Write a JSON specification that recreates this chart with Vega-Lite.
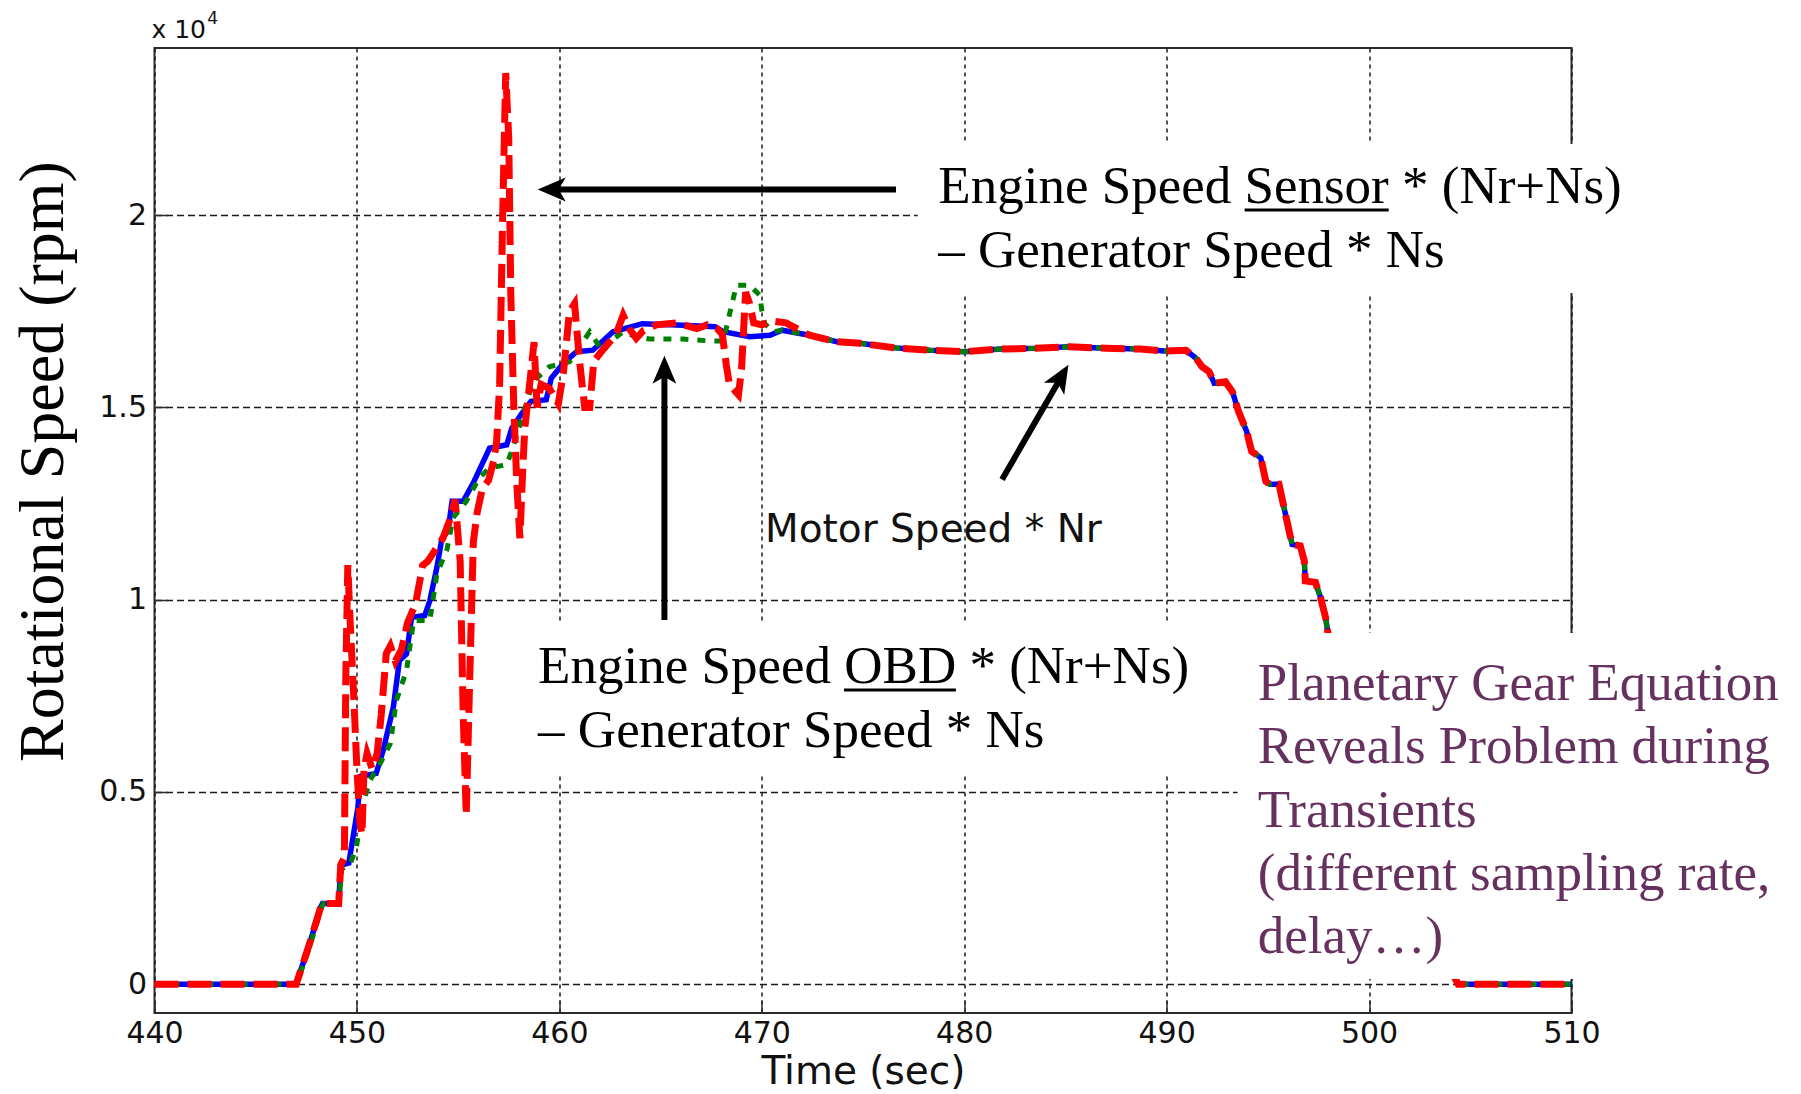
{
  "$schema": "https://vega.github.io/schema/vega-lite/v6.json",
  "width": 1417,
  "height": 965,
  "autosize": {"type": "none"},
  "padding": {"left": 154.5, "top": 48, "right": 229.5, "bottom": 81},
  "background": "white",
  "config": {
    "view": {"stroke": "#2b2b2b", "strokeWidth": 2},
    "font": "DejaVu Sans",
    "axisX": {
      "grid": true, "gridColor": "#1a1a1a", "gridWidth": 1.5, "gridDash": [4, 4],
      "domain": false, "ticks": true, "tickSize": -13, "tickColor": "#2b2b2b", "tickWidth": 1.5,
      "labelFont": "DejaVu Sans", "labelFontSize": 30, "labelColor": "#111111",
      "labelPadding": 18, "labelFlush": false, "labelOverlap": false,
      "titleFont": "DejaVu Sans", "titleFontSize": 39,
      "titleFontWeight": "normal", "titleColor": "#111111",
      "titleY": 70.5, "titleBaseline": "alphabetic"
    },
    "axisY": {
      "grid": true, "gridColor": "#1a1a1a", "gridWidth": 1.5, "gridDash": [7, 4],
      "domain": false, "ticks": true, "tickSize": -13, "tickColor": "#2b2b2b", "tickWidth": 1.5,
      "labelFont": "DejaVu Sans", "labelFontSize": 30, "labelColor": "#111111",
      "labelPadding": 21, "labelFlush": false, "labelOverlap": false,
      "titleFont": "Liberation Serif", "titleFontSize": 64,
      "titleFontWeight": "normal", "titleColor": "#000000",
      "titleAngle": 270, "titleAlign": "center", "titleBaseline": "alphabetic",
      "titleX": -92, "titleY": 413
    }
  },
  "datasets": {
    "motor": [
      {"t": 440, "rpm": 0}, {"t": 447.0, "rpm": 0}, {"t": 447.35, "rpm": 560}, {"t": 447.7, "rpm": 1120},
      {"t": 448.2, "rpm": 1990}, {"t": 448.3, "rpm": 2100}, {"t": 449.1, "rpm": 2100}, {"t": 449.2, "rpm": 3100},
      {"t": 449.6, "rpm": 3150}, {"t": 449.8, "rpm": 3800}, {"t": 450.05, "rpm": 4600}, {"t": 450.15, "rpm": 5400},
      {"t": 450.95, "rpm": 5480}, {"t": 451.3, "rpm": 6090}, {"t": 451.8, "rpm": 7210}, {"t": 452.1, "rpm": 8420},
      {"t": 452.45, "rpm": 8590}, {"t": 452.7, "rpm": 9540}, {"t": 453.35, "rpm": 9590}, {"t": 453.6, "rpm": 9970},
      {"t": 453.95, "rpm": 10840}, {"t": 454.2, "rpm": 11600}, {"t": 454.5, "rpm": 11790}, {"t": 454.7, "rpm": 12560},
      {"t": 455.25, "rpm": 12560}, {"t": 455.75, "rpm": 13040}, {"t": 456.55, "rpm": 13940}, {"t": 457.4, "rpm": 14030},
      {"t": 457.65, "rpm": 14460}, {"t": 458.15, "rpm": 14850}, {"t": 458.6, "rpm": 15160}, {"t": 459.35, "rpm": 15200},
      {"t": 459.6, "rpm": 15760}, {"t": 460.2, "rpm": 16150}, {"t": 460.85, "rpm": 16450}, {"t": 461.65, "rpm": 16490},
      {"t": 462.65, "rpm": 16970}, {"t": 464.1, "rpm": 17180}, {"t": 466.1, "rpm": 17140}, {"t": 467.7, "rpm": 17100},
      {"t": 468.1, "rpm": 16970}, {"t": 469.4, "rpm": 16840}, {"t": 470.4, "rpm": 16880}, {"t": 471.0, "rpm": 17010},
      {"t": 472.35, "rpm": 16880}, {"t": 473.7, "rpm": 16710}, {"t": 474.85, "rpm": 16670}, {"t": 476.6, "rpm": 16550},
      {"t": 478.3, "rpm": 16490}, {"t": 480.0, "rpm": 16450}, {"t": 481.8, "rpm": 16520}, {"t": 483.5, "rpm": 16540},
      {"t": 485.2, "rpm": 16580}, {"t": 487.0, "rpm": 16540}, {"t": 488.7, "rpm": 16520}, {"t": 489.9, "rpm": 16470},
      {"t": 490.95, "rpm": 16490}, {"t": 491.45, "rpm": 16280}, {"t": 491.75, "rpm": 16060}, {"t": 492.1, "rpm": 15930},
      {"t": 492.35, "rpm": 15630}, {"t": 492.9, "rpm": 15670}, {"t": 493.25, "rpm": 15410}, {"t": 493.55, "rpm": 14900},
      {"t": 493.95, "rpm": 14380}, {"t": 494.2, "rpm": 13860}, {"t": 494.65, "rpm": 13690}, {"t": 494.9, "rpm": 13080},
      {"t": 495.1, "rpm": 13000}, {"t": 495.55, "rpm": 13000}, {"t": 495.8, "rpm": 12390}, {"t": 496.05, "rpm": 11790},
      {"t": 496.2, "rpm": 11440}, {"t": 496.6, "rpm": 11400}, {"t": 496.8, "rpm": 11010}, {"t": 496.85, "rpm": 10490},
      {"t": 497.35, "rpm": 10450}, {"t": 497.6, "rpm": 10060}, {"t": 497.85, "rpm": 9540}, {"t": 498.0, "rpm": 9020},
      {"t": 499.0, "rpm": 7600}, {"t": 500.0, "rpm": 5800}, {"t": 501.0, "rpm": 4100}, {"t": 502.0, "rpm": 2600},
      {"t": 503.0, "rpm": 1300}, {"t": 504.0, "rpm": 400}, {"t": 504.4, "rpm": 0}, {"t": 510, "rpm": 0}
    ],
    "obd": [
      {"t": 440, "rpm": 0}, {"t": 447.0, "rpm": 0}, {"t": 447.4, "rpm": 560}, {"t": 447.75, "rpm": 1120},
      {"t": 448.25, "rpm": 1990}, {"t": 448.35, "rpm": 2100}, {"t": 449.1, "rpm": 2100}, {"t": 449.25, "rpm": 3000},
      {"t": 449.65, "rpm": 3100}, {"t": 449.98, "rpm": 3580}, {"t": 450.3, "rpm": 4700}, {"t": 450.65, "rpm": 5310},
      {"t": 451.15, "rpm": 5740}, {"t": 451.65, "rpm": 6260}, {"t": 451.95, "rpm": 7380}, {"t": 452.45, "rpm": 8160},
      {"t": 452.8, "rpm": 9460}, {"t": 453.6, "rpm": 9460}, {"t": 453.95, "rpm": 10670}, {"t": 454.45, "rpm": 11310},
      {"t": 454.75, "rpm": 12130}, {"t": 455.4, "rpm": 12560}, {"t": 456.05, "rpm": 13170}, {"t": 456.55, "rpm": 13430},
      {"t": 457.4, "rpm": 13510}, {"t": 457.7, "rpm": 13940}, {"t": 458.2, "rpm": 14810}, {"t": 458.7, "rpm": 15670},
      {"t": 459.5, "rpm": 16060}, {"t": 460.5, "rpm": 16190}, {"t": 461.5, "rpm": 16970}, {"t": 462.15, "rpm": 16450},
      {"t": 462.5, "rpm": 16710}, {"t": 463.15, "rpm": 16970}, {"t": 463.8, "rpm": 16840}, {"t": 464.45, "rpm": 16780},
      {"t": 466.1, "rpm": 16780}, {"t": 467.45, "rpm": 16730}, {"t": 468.1, "rpm": 16730}, {"t": 468.55, "rpm": 17750},
      {"t": 468.75, "rpm": 18180}, {"t": 469.4, "rpm": 18180}, {"t": 469.9, "rpm": 17920}, {"t": 470.0, "rpm": 17530},
      {"t": 470.15, "rpm": 17180}, {"t": 470.55, "rpm": 16970}, {"t": 471.0, "rpm": 17010},
      {"t": 472.35, "rpm": 16880}, {"t": 473.7, "rpm": 16710}, {"t": 474.85, "rpm": 16670}, {"t": 476.6, "rpm": 16550},
      {"t": 478.3, "rpm": 16490}, {"t": 480.0, "rpm": 16450}, {"t": 481.8, "rpm": 16520}, {"t": 483.5, "rpm": 16540},
      {"t": 485.2, "rpm": 16580}, {"t": 487.0, "rpm": 16540}, {"t": 488.7, "rpm": 16520}, {"t": 489.9, "rpm": 16470},
      {"t": 490.95, "rpm": 16490}, {"t": 491.45, "rpm": 16280}, {"t": 491.75, "rpm": 16060}, {"t": 492.1, "rpm": 15930},
      {"t": 492.35, "rpm": 15630}, {"t": 492.9, "rpm": 15670}, {"t": 493.25, "rpm": 15410}, {"t": 493.55, "rpm": 14900},
      {"t": 493.95, "rpm": 14380}, {"t": 494.2, "rpm": 13860}, {"t": 494.65, "rpm": 13690}, {"t": 494.9, "rpm": 13080},
      {"t": 495.1, "rpm": 13000}, {"t": 495.55, "rpm": 13000}, {"t": 495.8, "rpm": 12390}, {"t": 496.05, "rpm": 11790},
      {"t": 496.2, "rpm": 11440}, {"t": 496.6, "rpm": 11400}, {"t": 496.8, "rpm": 11010}, {"t": 496.85, "rpm": 10490},
      {"t": 497.35, "rpm": 10450}, {"t": 497.6, "rpm": 10060}, {"t": 497.85, "rpm": 9540}, {"t": 498.0, "rpm": 9020},
      {"t": 499.0, "rpm": 7600}, {"t": 500.0, "rpm": 5800}, {"t": 501.0, "rpm": 4100}, {"t": 502.0, "rpm": 2600},
      {"t": 503.0, "rpm": 1300}, {"t": 504.0, "rpm": 400}, {"t": 504.4, "rpm": 0}, {"t": 510, "rpm": 0}
    ],
    "sensor": [
      {"t": 440, "rpm": 0}, {"t": 447.0, "rpm": 0}, {"t": 447.35, "rpm": 560}, {"t": 447.7, "rpm": 1120},
      {"t": 448.2, "rpm": 1990}, {"t": 448.3, "rpm": 2100}, {"t": 449.1, "rpm": 2100}, {"t": 449.2, "rpm": 3100},
      {"t": 449.38, "rpm": 3300}, {"t": 449.45, "rpm": 8000}, {"t": 449.55, "rpm": 10900}, {"t": 449.65, "rpm": 9600},
      {"t": 449.85, "rpm": 7400}, {"t": 450.0, "rpm": 5600}, {"t": 450.15, "rpm": 4200}, {"t": 450.25, "rpm": 3900},
      {"t": 450.35, "rpm": 5600}, {"t": 450.5, "rpm": 6000}, {"t": 450.75, "rpm": 5600}, {"t": 451.0, "rpm": 6000},
      {"t": 451.2, "rpm": 7000}, {"t": 451.45, "rpm": 8600}, {"t": 451.65, "rpm": 8800}, {"t": 451.9, "rpm": 8400},
      {"t": 452.2, "rpm": 8700}, {"t": 452.5, "rpm": 9400}, {"t": 452.9, "rpm": 9900}, {"t": 453.25, "rpm": 10900},
      {"t": 453.5, "rpm": 11000}, {"t": 453.75, "rpm": 11200}, {"t": 454.25, "rpm": 11600}, {"t": 454.6, "rpm": 12100},
      {"t": 454.85, "rpm": 12600}, {"t": 455.1, "rpm": 11000}, {"t": 455.25, "rpm": 7000}, {"t": 455.4, "rpm": 4400},
      {"t": 455.55, "rpm": 7500}, {"t": 455.75, "rpm": 11500}, {"t": 455.95, "rpm": 12300}, {"t": 456.2, "rpm": 12900},
      {"t": 456.5, "rpm": 13100}, {"t": 456.75, "rpm": 13600}, {"t": 456.9, "rpm": 14100}, {"t": 457.05, "rpm": 15600},
      {"t": 457.2, "rpm": 20000}, {"t": 457.35, "rpm": 23700}, {"t": 457.5, "rpm": 22000}, {"t": 457.6, "rpm": 18000},
      {"t": 457.75, "rpm": 15000}, {"t": 457.9, "rpm": 13000}, {"t": 458.05, "rpm": 11600}, {"t": 458.2, "rpm": 13500},
      {"t": 458.3, "rpm": 14500}, {"t": 458.55, "rpm": 15700}, {"t": 458.75, "rpm": 16700}, {"t": 458.9, "rpm": 15000},
      {"t": 459.1, "rpm": 15600}, {"t": 459.5, "rpm": 15500}, {"t": 459.95, "rpm": 15100}, {"t": 460.2, "rpm": 15900},
      {"t": 460.5, "rpm": 17500}, {"t": 460.75, "rpm": 17700}, {"t": 461.0, "rpm": 16200}, {"t": 461.25, "rpm": 15000},
      {"t": 461.5, "rpm": 15000}, {"t": 461.7, "rpm": 16200}, {"t": 462.15, "rpm": 16500}, {"t": 462.8, "rpm": 16900},
      {"t": 463.15, "rpm": 17400}, {"t": 463.45, "rpm": 17050}, {"t": 463.8, "rpm": 16800}, {"t": 464.15, "rpm": 17000},
      {"t": 464.8, "rpm": 17150}, {"t": 465.8, "rpm": 17200}, {"t": 466.8, "rpm": 17050}, {"t": 467.3, "rpm": 17150},
      {"t": 467.8, "rpm": 17050}, {"t": 468.05, "rpm": 16900}, {"t": 468.25, "rpm": 16100}, {"t": 468.4, "rpm": 15600},
      {"t": 468.85, "rpm": 15330}, {"t": 469.0, "rpm": 16000}, {"t": 469.1, "rpm": 17000}, {"t": 469.2, "rpm": 18000},
      {"t": 469.4, "rpm": 17700}, {"t": 469.6, "rpm": 17200}, {"t": 470.0, "rpm": 17150}, {"t": 470.5, "rpm": 17250},
      {"t": 471.2, "rpm": 17200}, {"t": 472.35, "rpm": 16880},
      {"t": 473.7, "rpm": 16710}, {"t": 474.85, "rpm": 16670}, {"t": 476.6, "rpm": 16550},
      {"t": 478.3, "rpm": 16490}, {"t": 480.0, "rpm": 16450}, {"t": 481.8, "rpm": 16520}, {"t": 483.5, "rpm": 16540},
      {"t": 485.2, "rpm": 16580}, {"t": 487.0, "rpm": 16540}, {"t": 488.7, "rpm": 16520}, {"t": 489.9, "rpm": 16470},
      {"t": 490.95, "rpm": 16490}, {"t": 491.45, "rpm": 16280}, {"t": 491.75, "rpm": 16060}, {"t": 492.1, "rpm": 15930},
      {"t": 492.35, "rpm": 15630}, {"t": 492.9, "rpm": 15670}, {"t": 493.25, "rpm": 15410}, {"t": 493.55, "rpm": 14900},
      {"t": 493.95, "rpm": 14380}, {"t": 494.2, "rpm": 13860}, {"t": 494.65, "rpm": 13690}, {"t": 494.9, "rpm": 13080},
      {"t": 495.1, "rpm": 13000}, {"t": 495.55, "rpm": 13000}, {"t": 495.8, "rpm": 12390}, {"t": 496.05, "rpm": 11790},
      {"t": 496.2, "rpm": 11440}, {"t": 496.6, "rpm": 11400}, {"t": 496.8, "rpm": 11010}, {"t": 496.85, "rpm": 10490},
      {"t": 497.35, "rpm": 10450}, {"t": 497.6, "rpm": 10060}, {"t": 497.85, "rpm": 9540}, {"t": 498.0, "rpm": 9020},
      {"t": 499.0, "rpm": 7600}, {"t": 500.0, "rpm": 5800}, {"t": 501.0, "rpm": 4100}, {"t": 502.0, "rpm": 2600},
      {"t": 503.0, "rpm": 1300}, {"t": 504.0, "rpm": 400}, {"t": 504.4, "rpm": 0}, {"t": 510, "rpm": 0}
    ],
    "anchor": [{}]
  },
  "layer": [
    {
      "encoding": {
        "x": {
          "field": "t", "type": "quantitative",
          "scale": {"domain": [440, 510], "nice": false, "zero": false},
          "axis": {"values": [440, 450, 460, 470, 480, 490, 500, 510], "title": "Time (sec)"}
        },
        "y": {
          "field": "rpm", "type": "quantitative",
          "scale": {"domain": [-750, 24350], "nice": false, "zero": false},
          "axis": {"values": [0, 5000, 10000, 15000, 20000], "labelExpr": "datum.value / 10000", "title": "Rotational Speed (rpm)"}
        }
      },
      "layer": [
        {"data": {"name": "motor"}, "mark": {"type": "line", "color": "#0000ff", "strokeWidth": 5.5}},
        {"data": {"name": "obd"}, "mark": {"type": "line", "color": "#008000", "strokeWidth": 5, "strokeDash": [8, 9]}},
        {"data": {"name": "sensor"}, "mark": {"type": "line", "color": "#ff0000", "strokeWidth": 7, "strokeDash": [24, 9]}}
      ]
    },
    {
      "data": {"name": "anchor"},
      "layer": [
        {
          "mark": {"type": "rect", "fill": "white", "strokeWidth": 0},
          "encoding": {"x": {"datum": 477.7}, "x2": {"datum": 514}, "y": {"datum": 21853}, "y2": {"datum": 17977}}
        },
        {
          "mark": {"type": "rect", "fill": "white", "strokeWidth": 0},
          "encoding": {"x": {"datum": 458.45}, "x2": {"datum": 491.4}, "y": {"datum": 9420}, "y2": {"datum": 5493}}
        },
        {
          "mark": {"type": "rect", "fill": "white", "strokeWidth": 0},
          "encoding": {"x": {"datum": 493.5}, "x2": {"datum": 521.3}, "y": {"datum": 9134}, "y2": {"datum": 134}}
        },
        {
          "mark": {
            "type": "text", "text": ["Engine Speed Sensor * (Nr+Ns)", "– Generator Speed * Ns"],
            "font": "Liberation Serif", "fontSize": 53, "lineHeight": 64,
            "align": "left", "baseline": "alphabetic", "color": "#000000"
          },
          "encoding": {"x": {"datum": 478.72}, "y": {"datum": 20311}}
        },
        {
          "mark": {"type": "rule", "color": "#000000", "strokeWidth": 3},
          "encoding": {"x": {"datum": 493.85}, "x2": {"datum": 500.97}, "y": {"datum": 20136}}
        },
        {
          "mark": {
            "type": "text", "text": ["Engine Speed OBD * (Nr+Ns)", "– Generator Speed * Ns"],
            "font": "Liberation Serif", "fontSize": 53, "lineHeight": 64,
            "align": "left", "baseline": "alphabetic", "color": "#000000"
          },
          "encoding": {"x": {"datum": 458.95}, "y": {"datum": 7833}}
        },
        {
          "mark": {"type": "rule", "color": "#000000", "strokeWidth": 3},
          "encoding": {"x": {"datum": 474.06}, "x2": {"datum": 479.59}, "y": {"datum": 7651}}
        },
        {
          "mark": {
            "type": "text", "text": "Motor Speed * Nr",
            "font": "DejaVu Sans", "fontSize": 39,
            "align": "left", "baseline": "alphabetic", "color": "#111111"
          },
          "encoding": {"x": {"datum": 470.16}, "y": {"datum": 11509}}
        },
        {
          "mark": {
            "type": "text",
            "text": ["Planetary Gear Equation", "Reveals Problem during", "Transients", "(different sampling rate,", "delay…)"],
            "font": "Liberation Serif", "fontSize": 53, "lineHeight": 63.3,
            "align": "left", "baseline": "alphabetic", "color": "#66305f"
          },
          "encoding": {"x": {"datum": 494.5}, "y": {"datum": 7391}}
        },
        {
          "mark": {
            "type": "text", "text": "x 10",
            "font": "DejaVu Sans", "fontSize": 25,
            "align": "left", "baseline": "alphabetic", "color": "#111111"
          },
          "encoding": {"x": {"datum": 439.85}, "y": {"datum": 24610}}
        },
        {
          "mark": {
            "type": "text", "text": "4",
            "font": "DejaVu Sans", "fontSize": 17,
            "align": "left", "baseline": "alphabetic", "color": "#111111"
          },
          "encoding": {"x": {"datum": 442.6}, "y": {"datum": 24974}}
        },
        {
          "mark": {"type": "rule", "color": "#000000", "strokeWidth": 6},
          "encoding": {"x": {"datum": 476.63}, "x2": {"datum": 459.82}, "y": {"datum": 20670}}
        },
        {
          "mark": {"type": "rule", "color": "#000000", "strokeWidth": 6},
          "encoding": {"x": {"datum": 465.19}, "y": {"datum": 9472}, "y2": {"datum": 15876}}
        },
        {
          "mark": {"type": "rule", "color": "#000000", "strokeWidth": 6},
          "encoding": {"x": {"datum": 481.87}, "x2": {"datum": 484.7}, "y": {"datum": 13127}, "y2": {"datum": 15706}}
        },
        {
          "mark": {"type": "point", "shape": "M0,0 L0.85,2 L0,1.5 L-0.85,2 Z", "filled": true, "color": "#000000", "strokeWidth": 0, "opacity": 1, "size": 784, "angle": 270},
          "encoding": {"x": {"datum": 458.93}, "y": {"datum": 20670}}
        },
        {
          "mark": {"type": "point", "shape": "M0,0 L0.85,2 L0,1.5 L-0.85,2 Z", "filled": true, "color": "#000000", "strokeWidth": 0, "opacity": 1, "size": 784, "angle": 0},
          "encoding": {"x": {"datum": 465.19}, "y": {"datum": 16344}}
        },
        {
          "mark": {"type": "point", "shape": "M0,0 L0.85,2 L0,1.5 L-0.85,2 Z", "filled": true, "color": "#000000", "strokeWidth": 0, "opacity": 1, "size": 784, "angle": 31},
          "encoding": {"x": {"datum": 485.15}, "y": {"datum": 16109}}
        }
      ]
    }
  ]
}
